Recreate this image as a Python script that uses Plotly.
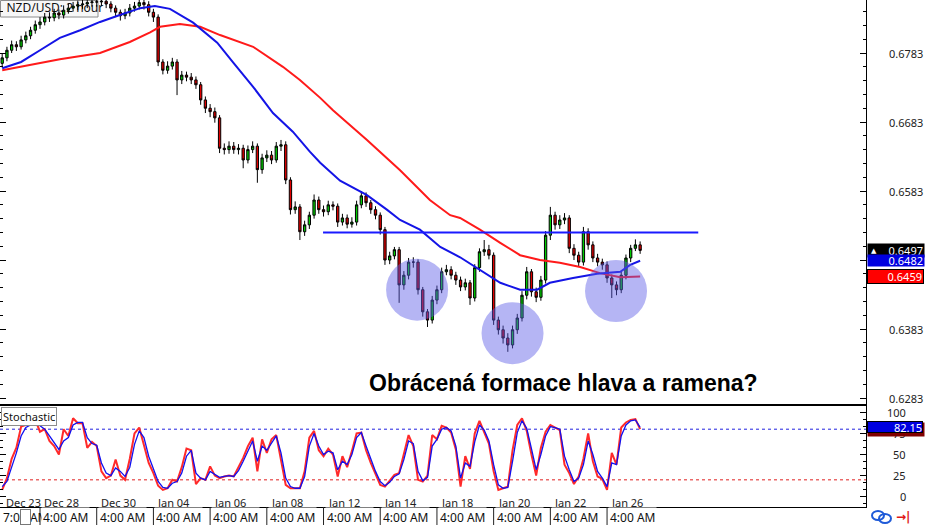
import plotly.graph_objects as go

# ---------------- data ----------------
TITLE = "NZD/USD: 2 hour"
STOCH_TITLE = "Stochastic"
CAPTION = "Obrácená formace hlava a ramena?"

PIP = 10000.0  # prices below are in 1/10000 units

OPEN = [6768, 6776, 6787, 6795, 6792, 6802, 6808, 6816, 6824, 6828,
        6835, 6834, 6841, 6838, 6845, 6848, 6851, 6853, 6854, 6856,
        6857, 6857, 6858, 6854, 6848, 6842, 6837, 6841, 6848, 6851,
        6856, 6853, 6842, 6835, 6770, 6758, 6764, 6770, 6744, 6751,
        6748, 6744, 6737, 6715, 6703, 6698, 6689, 6645, 6643, 6648,
        6643, 6645, 6628, 6643, 6648, 6614, 6631, 6635, 6628, 6648,
        6650, 6599, 6556, 6560, 6524, 6534, 6548, 6570, 6556, 6553,
        6563, 6561, 6538, 6544, 6535, 6538, 6563, 6576, 6566, 6556,
        6548, 6527, 6483, 6489, 6498, 6447, 6461, 6480, 6480, 6440,
        6408, 6396, 6425, 6440, 6466, 6469, 6461, 6454, 6444, 6450,
        6428, 6472, 6495, 6498, 6490, 6396, 6382, 6370, 6360, 6382,
        6399, 6432, 6466, 6437, 6429, 6454, 6519, 6548, 6534, 6541,
        6544, 6500, 6490, 6480, 6524, 6505, 6486, 6480, 6476, 6457,
        6447, 6440, 6461, 6486, 6500, 6505]
HIGH = [6782, 6792, 6801, 6800, 6808, 6814, 6821, 6830, 6835, 6841,
        6842, 6847, 6846, 6852, 6855, 6857, 6859, 6860, 6861, 6863,
        6863, 6864, 6863, 6858, 6852, 6846, 6847, 6854, 6857, 6863,
        6862, 6858, 6847, 6839, 6774, 6771, 6776, 6774, 6757, 6756,
        6754, 6749, 6741, 6720, 6709, 6704, 6693, 6652, 6655, 6654,
        6651, 6650, 6649, 6655, 6652, 6637, 6642, 6641, 6654, 6657,
        6655, 6603, 6568, 6564, 6540, 6553, 6578, 6575, 6562, 6569,
        6568, 6565, 6550, 6549, 6545, 6569, 6583, 6581, 6570, 6561,
        6552, 6531, 6495, 6502, 6502, 6467, 6486, 6487, 6484, 6444,
        6412, 6431, 6446, 6472, 6476, 6474, 6466, 6459, 6456, 6454,
        6477, 6500, 6512, 6505, 6494, 6401, 6388, 6377, 6388, 6405,
        6438, 6473, 6470, 6443, 6460, 6525, 6560, 6553, 6548, 6551,
        6548, 6506, 6495, 6531, 6529, 6510, 6492, 6485, 6481, 6462,
        6452, 6467, 6491, 6505, 6513, 6510]
LOW = [6762, 6771, 6783, 6786, 6788, 6797, 6803, 6811, 6818, 6823,
       6828, 6829, 6832, 6833, 6840, 6843, 6845, 6847, 6848, 6850,
       6850, 6851, 6848, 6842, 6835, 6830, 6832, 6836, 6843, 6846,
       6846, 6836, 6828, 6764, 6752, 6753, 6759, 6722, 6738, 6742,
       6738, 6731, 6708, 6696, 6690, 6682, 6638, 6636, 6637, 6637,
       6636, 6616, 6623, 6638, 6595, 6608, 6625, 6622, 6624, 6641,
       6593, 6549, 6550, 6512, 6518, 6528, 6543, 6550, 6546, 6548,
       6555, 6531, 6533, 6529, 6530, 6533, 6558, 6560, 6550, 6542,
       6520, 6476, 6477, 6484, 6421, 6440, 6455, 6472, 6433, 6401,
       6386, 6391, 6419, 6435, 6461, 6455, 6447, 6438, 6439, 6418,
       6423, 6466, 6489, 6484, 6389, 6375, 6362, 6350, 6355, 6376,
       6394, 6426, 6430, 6422, 6424, 6449, 6512, 6527, 6528, 6535,
       6493, 6483, 6473, 6475, 6498, 6480, 6474, 6469, 6450, 6428,
       6432, 6435, 6455, 6480, 6496, 6492]
CLOSE = [6776, 6787, 6795, 6792, 6802, 6808, 6816, 6824, 6828, 6835,
         6834, 6841, 6838, 6845, 6848, 6851, 6853, 6854, 6856, 6857,
         6857, 6858, 6854, 6848, 6842, 6837, 6841, 6848, 6851, 6856,
         6853, 6842, 6835, 6770, 6758, 6764, 6770, 6744, 6751, 6748,
         6744, 6737, 6715, 6703, 6698, 6689, 6645, 6643, 6648, 6643,
         6645, 6628, 6643, 6648, 6614, 6631, 6635, 6628, 6648, 6650,
         6599, 6556, 6560, 6524, 6534, 6548, 6570, 6556, 6553, 6563,
         6561, 6538, 6544, 6535, 6538, 6563, 6576, 6566, 6556, 6548,
         6527, 6483, 6489, 6498, 6447, 6461, 6480, 6480, 6440, 6408,
         6396, 6425, 6440, 6466, 6469, 6461, 6454, 6444, 6450, 6428,
         6472, 6495, 6498, 6490, 6396, 6382, 6370, 6360, 6382, 6399,
         6432, 6466, 6437, 6429, 6454, 6519, 6548, 6534, 6541, 6544,
         6500, 6490, 6480, 6524, 6505, 6486, 6480, 6476, 6457, 6447,
         6440, 6461, 6486, 6500, 6505, 6497]

MA_BLUE_IDX = [0, 4, 8, 12.2, 16.5, 20.7, 24.9, 29.2, 32.3, 35.5,
               40.4, 45.5, 48.9, 53.1, 57.3, 61.5, 65.1, 67.3, 71.5, 77.2,
               81.4, 84.2, 88.4, 92.7, 96.9, 101.1, 105.4, 109.6, 113.2, 115.9,
               120.8, 125.9, 130.8, 132.9, 135]
MA_BLUE = [6761, 6770, 6787, 6805, 6816, 6828, 6838, 6848, 6851, 6847,
           6827, 6798, 6769, 6734, 6696, 6669, 6640, 6624, 6598, 6577,
           6556, 6541, 6527, 6502, 6487, 6469, 6450, 6440, 6440, 6450,
           6457, 6463, 6466, 6476, 6482]
MA_RED_IDX = [0, 5.9, 12.2, 20.7, 27.0, 31.3, 33.4, 37.6, 41.9, 46.1,
              53.1, 59.4, 63.0, 67.3, 70.0, 77.2, 84.2, 90.5, 94.8, 96.9,
              101.1, 105.4, 109.6, 113.8, 118.0, 122.3, 126.5, 130.8, 135]
MA_RED = [6758, 6766, 6774, 6783, 6799, 6813, 6821, 6825, 6821, 6809,
          6792, 6763, 6744, 6718, 6700, 6657, 6613, 6570, 6548, 6544,
          6527, 6508, 6490, 6483, 6479, 6473, 6464, 6458, 6459]

STOCH_K = [8, 22, 45, 58, 83, 85, 87, 91, 77, 80,
           66, 60, 50, 80, 72, 93, 87, 87, 58, 65,
           60, 30, 22, 25, 44, 25, 20, 45, 75, 82,
           62, 40, 28, 13, 8, 10, 20, 18, 35, 57,
           55, 15, 22, 20, 36, 25, 22, 24, 25, 24,
           35, 46, 60, 70, 30, 68, 52, 68, 73, 45,
           14, 10, 10, 10, 30, 70, 78, 55, 48, 57,
           50, 24, 48, 35, 54, 75, 76, 55, 40, 27,
           14, 12, 19, 26, 28, 52, 73, 60, 20, 18,
           25, 73, 68, 84, 82, 76, 56, 12, 48, 33,
           75, 90, 76, 63, 30, 8, 10, 12, 55, 85,
           93, 78, 50, 25, 58, 77, 85, 82, 79, 38,
           28, 15, 24, 45, 75, 42, 24, 21, 8, 52,
           38, 82, 88, 91, 92, 80]
STOCH_D = [12, 18, 35, 52, 72, 82, 85, 88, 84, 80,
           72, 64, 56, 66, 70, 85, 88, 88, 70, 63,
           61, 40, 28, 25, 34, 30, 24, 35, 62, 78,
           70, 48, 32, 18, 11, 10, 16, 18, 28, 48,
           55, 28, 22, 20, 30, 26, 23, 24, 25, 24,
           31, 42, 55, 66, 42, 60, 55, 64, 72, 52,
           22, 12, 10, 10, 24, 60, 75, 60, 50, 54,
           52, 32, 42, 38, 50, 70, 76, 60, 44, 30,
           18, 13, 17, 24, 27, 44, 66, 63, 30, 19,
           23, 60, 68, 80, 82, 78, 60, 22, 40, 36,
           65, 85, 79, 66, 38, 14, 10, 11, 42, 76,
           90, 81, 57, 32, 50, 72, 83, 82, 80, 48,
           32, 18, 22, 38, 66, 50, 30, 22, 12, 40,
           38, 72, 85, 90, 91, 82.15]

PRICE_TICKS = [0.6283, 0.6383, 0.6483, 0.6583, 0.6683, 0.6783]
STOCH_TICKS = [0, 25, 50, 75, 100]
STOCH_LEVELS = [80, 20]
DATE_IDX = [0, 8, 20, 32, 44, 56, 68, 80, 92, 104, 116, 128]
DATE_LABELS = ["Dec 23", "Dec 28", "Dec 30", "Jan 04", "Jan 06", "Jan 08",
               "Jan 12", "Jan 14", "Jan 18", "Jan 20", "Jan 22", "Jan 26"]
TIME_IDX = [8, 20, 32, 44, 56, 68, 80, 92, 104, 116, 128]
TIME_LABELS = ["4:00 AM"] * 11
FIRST_TIME_LABEL = "7:00 AM"

NECKLINE_PRICE = 6523
NECKLINE_IDX = [67.9, 147.3]
PATTERN_IDX = [87.8, 108.0, 129.9]
PATTERN_PRICE = [6440, 6377, 6438]

# ---------------- geometry / style ----------------
W, H = 925, 525
PLOT_R = 866
MAIN_BOT = 404
ST_TOP, ST_BOT = 406, 507
X_RANGE = [-0.466, 182.8]
Y_RANGE = [0.62744, 0.68598]
ST_RANGE = [-12.2, 107.5]
FONT = "Noto Sans, DejaVu Sans, sans-serif"


def fx(p):
    return p / W


def fy(p):
    return 1 - p / H


x = list(range(len(CLOSE)))
o = [v / PIP for v in OPEN]
h = [v / PIP for v in HIGH]
l = [v / PIP for v in LOW]
c = [v / PIP for v in CLOSE]

fig = go.Figure()
fig.add_trace(go.Candlestick(
    x=x, open=o, high=h, low=l, close=c, xaxis="x", yaxis="y",
    increasing=dict(fillcolor="#00cc00", line=dict(color="black", width=1)),
    decreasing=dict(fillcolor="#e00000", line=dict(color="black", width=1)),
    whiskerwidth=0, showlegend=False, hoverinfo="skip"))
fig.add_trace(go.Scatter(x=MA_RED_IDX, y=[v / PIP for v in MA_RED], mode="lines",
                         line=dict(color="#ff1a1a", width=2), xaxis="x", yaxis="y",
                         showlegend=False, hoverinfo="skip"))
fig.add_trace(go.Scatter(x=MA_BLUE_IDX, y=[v / PIP for v in MA_BLUE], mode="lines",
                         line=dict(color="#1414e6", width=2), xaxis="x", yaxis="y",
                         showlegend=False, hoverinfo="skip"))
fig.add_trace(go.Scatter(x=x, y=STOCH_K, mode="lines", line=dict(color="#ff2a2a", width=2),
                         xaxis="x2", yaxis="y2", showlegend=False, hoverinfo="skip"))
fig.add_trace(go.Scatter(x=x, y=STOCH_D, mode="lines", line=dict(color="#1010f0", width=1.3),
                         xaxis="x2", yaxis="y2", showlegend=False, hoverinfo="skip"))

shapes = []
# title box (behind candles)
shapes.append(dict(type="rect", xref="paper", yref="paper", layer="below",
                   x0=fx(0.5), x1=fx(98), y0=fy(17), y1=fy(0.5),
                   line=dict(color="#8c8c8c", width=1), fillcolor="#f7f7f7",
                   label=dict(text=TITLE, textposition="middle left", padding=3,
                              font=dict(family=FONT, size=12, color="#111"))))
# pattern circles
for xi, pr in zip(PATTERN_IDX, PATTERN_PRICE):
    shapes.append(dict(type="circle", xref="x", yref="y", xsizemode="pixel", ysizemode="pixel",
                       xanchor=xi, yanchor=pr / PIP, x0=-31, x1=31, y0=-31, y1=31,
                       fillcolor="rgba(90,90,230,0.45)", line=dict(width=0), layer="above"))
# neckline
shapes.append(dict(type="line", xref="x", yref="y", x0=NECKLINE_IDX[0], x1=NECKLINE_IDX[1],
                   y0=NECKLINE_PRICE / PIP, y1=NECKLINE_PRICE / PIP,
                   line=dict(color="#1a1aff", width=2)))
# stochastic levels
for lv, col in zip(STOCH_LEVELS, ["#2020e0", "#e02020"]):
    shapes.append(dict(type="line", xref="paper", yref="y2", x0=0, x1=fx(PLOT_R), y0=lv, y1=lv,
                       line=dict(color=col, width=1, dash="3px,3px"), layer="below"))
# bottom time-row separators
for ti in TIME_IDX:
    shapes.append(dict(type="line", xref="x2", yref="paper", x0=ti, x1=ti,
                       y0=fy(525), y1=fy(ST_BOT), line=dict(color="#222", width=1)))
# link icon
shapes.append(dict(type="circle", xref="paper", yref="paper", x0=fx(872), x1=fx(884),
                   y0=fy(520), y1=fy(511), line=dict(color="#1e5ad8", width=2)))
shapes.append(dict(type="circle", xref="paper", yref="paper", x0=fx(879), x1=fx(891),
                   y0=fy(523), y1=fy(514), line=dict(color="#1e5ad8", width=2)))

ann = []
# price tick labels
for t in PRICE_TICKS:
    ann.append(dict(xref="paper", yref="y", x=fx(887), y=t, xanchor="left", yanchor="middle",
                    text=f"{t:.4f}", showarrow=False, font=dict(family=FONT, size=11, color="#222")))
# stochastic tick labels
for t in STOCH_TICKS:
    ann.append(dict(xref="paper", yref="y2", x=fx(908), y=t, xanchor="right", yanchor="middle",
                    text=str(t), showarrow=False, font=dict(family=FONT, size=11, color="#222")))
# date labels
for di, dl in zip(DATE_IDX, DATE_LABELS):
    ann.append(dict(xref="x2", yref="paper", x=di, y=fy(502), xanchor="left", yanchor="middle",
                    xshift=2, text=dl, showarrow=False, font=dict(family=FONT, size=11, color="#222")))
# time labels
ann.append(dict(xref="paper", yref="paper", x=fx(1), y=fy(517), xanchor="left", yanchor="middle",
                text=FIRST_TIME_LABEL, showarrow=False, font=dict(family=FONT, size=12, color="#111")))
ann.append(dict(xref="paper", yref="paper", x=fx(20), y=fy(517), xanchor="left", yanchor="middle",
                text=" ", width=9, height=14, bgcolor="white", bordercolor="#777", borderwidth=1,
                borderpad=0, showarrow=False))
for ti, tl in zip(TIME_IDX, TIME_LABELS):
    ann.append(dict(xref="x2", yref="paper", x=ti, y=fy(517), xanchor="left", yanchor="middle",
                    xshift=1, text=tl, showarrow=False, bgcolor="white",
                    font=dict(family=FONT, size=12, color="#111")))
# current value boxes
ann.append(dict(xref="paper", yref="y", x=fx(PLOT_R + 1), y=CLOSE[-1] / PIP, xanchor="left",
                yanchor="middle", text=f"{CLOSE[-1] / PIP:.4f}", width=54, height=11, align="right",
                bgcolor="black", borderpad=1, showarrow=False,
                font=dict(family=FONT, size=11, color="white")))
ann.append(dict(xref="paper", yref="y", x=fx(869), y=CLOSE[-1] / PIP, xanchor="left",
                yanchor="middle", text="▲", showarrow=False, font=dict(family=FONT, size=7, color="white")))
ann.append(dict(xref="paper", yref="y", x=fx(PLOT_R + 1), y=MA_BLUE[-1] / PIP, xanchor="left",
                yanchor="middle", text=f"{MA_BLUE[-1] / PIP:.4f}", width=54, height=9, align="right",
                bgcolor="#0000e0", borderpad=1, showarrow=False,
                font=dict(family=FONT, size=11, color="white")))
ann.append(dict(xref="paper", yref="y", x=fx(PLOT_R + 1), y=MA_RED[-1] / PIP, xanchor="left",
                yanchor="middle", text=f"{MA_RED[-1] / PIP:.4f}", width=53, height=11, align="right",
                bgcolor="#ff0000", bordercolor="black", borderwidth=1, borderpad=1, showarrow=False,
                font=dict(family=FONT, size=11, color="white")))
ann.append(dict(xref="paper", yref="y2", x=fx(PLOT_R + 1), y=STOCH_K[-1], xanchor="left",
                yanchor="middle", text=" ", width=54, height=11, bgcolor="#800000", borderpad=1,
                showarrow=False))
ann.append(dict(xref="paper", yref="y2", x=fx(PLOT_R + 1), y=STOCH_D[-1], xanchor="left",
                yanchor="middle", text=f"{STOCH_D[-1]:.2f}", width=54, height=10, align="right",
                bgcolor="#0000e0", bordercolor="black", borderwidth=1, borderpad=0, showarrow=False,
                font=dict(family=FONT, size=11, color="white")))
# stochastic label
ann.append(dict(xref="paper", yref="paper", x=fx(0.5), y=fy(ST_TOP + 1), xanchor="left", yanchor="top",
                text=STOCH_TITLE, bgcolor="white", bordercolor="#8c8c8c", borderwidth=1, borderpad=1,
                showarrow=False, font=dict(family=FONT, size=11, color="#111")))
# caption
ann.append(dict(xref="paper", yref="paper", x=fx(563), y=fy(383), xanchor="center", yanchor="middle",
                text=f"<b>{CAPTION}</b>", showarrow=False,
                font=dict(family="Liberation Sans, Arial, sans-serif", size=23, color="black")))
# go-to-end icon
ann.append(dict(xref="paper", yref="paper", x=fx(894), y=fy(517), xanchor="left", yanchor="middle",
                text="<b>→|</b>", showarrow=False,
                font=dict(family="DejaVu Sans, sans-serif", size=12, color="#e01818")))

axis_common = dict(showgrid=False, zeroline=False, showline=True, linecolor="black", linewidth=1)

fig.update_layout(
    width=W, height=H, margin=dict(l=0, r=0, t=0, b=0),
    paper_bgcolor="white", plot_bgcolor="white", showlegend=False,
    xaxis=dict(domain=[0, fx(PLOT_R)], range=X_RANGE, anchor="y", mirror=True,
               showticklabels=False, ticks="", rangeslider=dict(visible=False), **axis_common),
    yaxis=dict(domain=[fy(MAIN_BOT), 1], range=Y_RANGE, anchor="x", side="right", mirror="ticks",
               ticks="inside", ticklen=6, tickcolor="black", tick0=PRICE_TICKS[0], dtick=0.01,
               showticklabels=False,
               minor=dict(ticks="inside", ticklen=3, tickcolor="black", dtick=0.002, tick0=PRICE_TICKS[0]),
               **axis_common),
    xaxis2=dict(domain=[0, fx(PLOT_R)], range=X_RANGE, anchor="y2", mirror=True,
                showticklabels=False, ticks="", **axis_common),
    yaxis2=dict(domain=[fy(ST_BOT), fy(ST_TOP)], range=ST_RANGE, anchor="x2", side="right",
                mirror="ticks", ticks="inside", ticklen=6, tickcolor="black", tickvals=STOCH_TICKS,
                showticklabels=False,
                minor=dict(ticks="inside", ticklen=3, tickcolor="black", dtick=100 / 12, tick0=0),
                **axis_common),
    shapes=shapes, annotations=ann,
)

fig.write_html("out.html", config={"displayModeBar": False},
               post_script="document.body.style.margin='0';document.body.style.overflow='hidden';")
